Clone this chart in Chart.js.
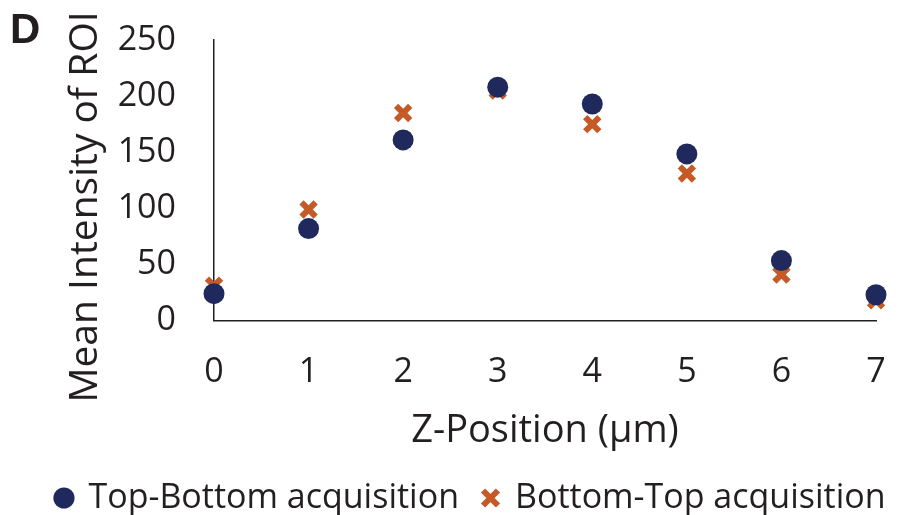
<!DOCTYPE html>
<html>
<head>
<meta charset="utf-8">
<script src="https://cdn.jsdelivr.net/npm/chart.js@4.4.1/dist/chart.umd.min.js"></script>
<style>
html,body{margin:0;padding:0;background:#fff;}
#wrap{position:relative;width:902px;height:515px;}
</style>
</head>
<body>
<div id="wrap"><canvas id="c" width="902" height="515"></canvas></div>
<script>
const zPositions = [0, 1, 2, 3, 4, 5, 6, 7];
const topBottom = [24, 82, 161, 208, 193, 148.5, 53.5, 23];
const bottomTop = [31, 99, 185, 205, 175, 131, 41, 18];
const yTicks = [0, 50, 100, 150, 200, 250];
const seriesNames = ['Top-Bottom acquisition', 'Bottom-Top acquisition'];
const panelLabel = 'D';
const xTitle = 'Z-Position (µm)';
const yTitle = 'Mean Intensity of ROI';

const navy = '#1F295C';
const orange = '#C55A26';
const ink = '#231F20';
const FONT = "'Open Sans', sans-serif";
const PAD_LEFT = 30;

const toPts = ys => zPositions.map((x, i) => ({x: x, y: ys[i]}));

const textPlugin = {
  id: 'extraText',
  afterDraw(chart) {
    const ctx = chart.ctx;
    ctx.save();
    ctx.fillStyle = ink;
    ctx.font = "bold 42px 'Liberation Sans', sans-serif";
    ctx.textBaseline = 'alphabetic';
    ctx.textAlign = 'left';
    ctx.fillText(panelLabel, 10, 43);
    ctx.restore();

    ctx.save();
    ctx.fillStyle = ink;
    ctx.font = "39px " + FONT;
    ctx.textAlign = 'center';
    ctx.textBaseline = 'alphabetic';
    ctx.translate(97, 207);
    ctx.rotate(-Math.PI / 2);
    ctx.fillText(yTitle, 0, 0);
    ctx.restore();
  }
};

new Chart(document.getElementById('c'), {
  type: 'scatter',
  data: {
    datasets: [
      {
        label: seriesNames[0],
        data: toPts(topBottom),
        pointStyle: 'circle',
        pointRadius: 10.5,
        pointHoverRadius: 10.5,
        backgroundColor: navy,
        borderColor: navy,
        borderWidth: 0,
        clip: false
      },
      {
        label: seriesNames[1],
        data: toPts(bottomTop),
        pointStyle: 'crossRot',
        pointRadius: 10,
        pointHoverRadius: 10,
        backgroundColor: orange,
        borderColor: orange,
        borderWidth: 6,
        clip: false
      }
    ]
  },
  options: {
    responsive: false,
    animation: false,
    events: [],
    layout: {padding: {left: PAD_LEFT, top: 40, right: -10, bottom: -10}},
    scales: {
      x: {
        type: 'linear',
        min: 0, max: 7,
        afterBuildTicks: s => { s.ticks = zPositions.map(v => ({value: v})); },
        afterFit: s => { s.paddingRight = 26; },
        grid: {display: false, drawTicks: true, tickLength: 31},
        border: {display: true, color: ink, width: 1.5},
        ticks: {color: ink, font: {family: FONT, size: 34}, padding: 0, maxRotation: 0, autoSkip: false},
        title: {display: true, text: xTitle, color: ink, font: {family: FONT, size: 38}, padding: {top: 16, bottom: 3}}
      },
      y: {
        type: 'linear',
        min: 0, max: 250,
        afterBuildTicks: s => { s.ticks = yTicks.map(v => ({value: v})); },
        afterFit: s => { s.width = 214 - PAD_LEFT; },
        grid: {display: false, drawTicks: true, tickLength: 38},
        border: {display: true, color: ink, width: 1.5},
        ticks: {color: ink, font: {family: FONT, size: 34}, padding: 0, autoSkip: false},
        title: {display: false}
      }
    },
    plugins: {
      legend: {
        position: 'bottom',
        labels: {
          usePointStyle: true,
          boxWidth: 15, boxHeight: 15,
          color: ink,
          font: {family: FONT, size: 34},
          padding: 24
        }
      },
      tooltip: {enabled: false}
    }
  },
  plugins: [textPlugin]
});
</script>
</body>
</html>
